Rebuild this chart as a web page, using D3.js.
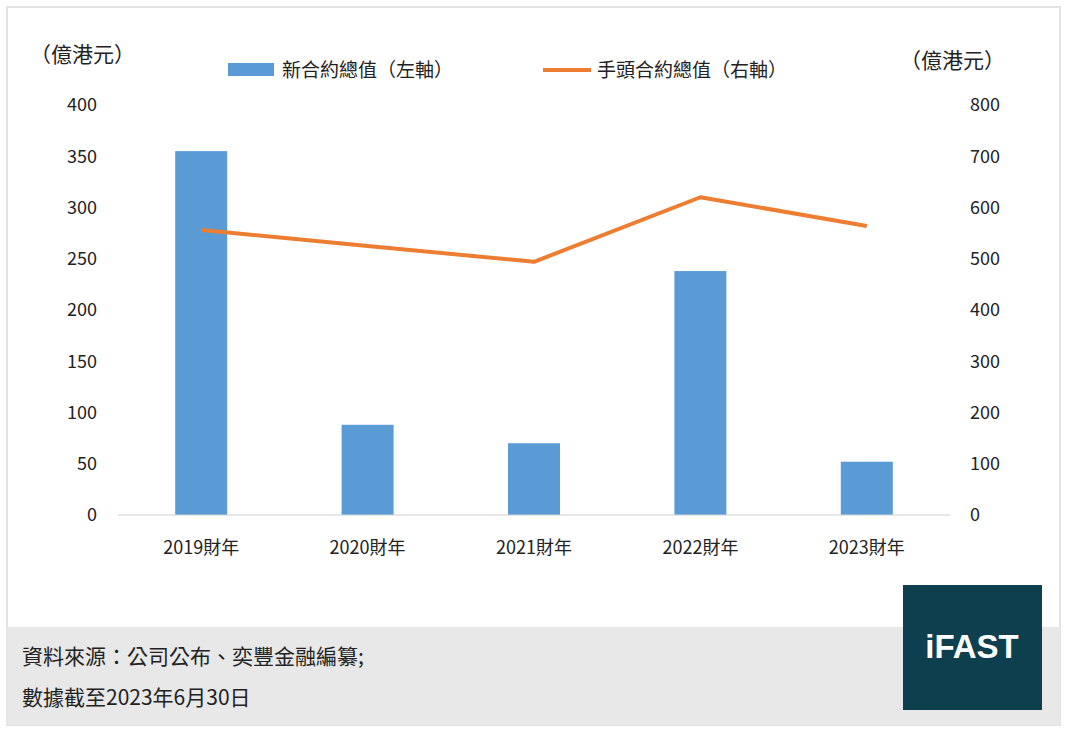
<!DOCTYPE html>
<html>
<head>
<meta charset="utf-8">
<script src="https://cdn.jsdelivr.net/npm/d3@7"></script>
<style>
  body { margin: 0; background: #fff; }
  text { font-family: "Noto Sans CJK TC", "Noto Sans", sans-serif; fill: #222; }
</style>
</head>
<body>
<div id="chart"></div>
<script>
const categories = ['2019財年', '2020財年', '2021財年', '2022財年', '2023財年']
const newContracts = [355, 88, 70, 238, 52]
const backlog = [556, 525, 494, 620, 564]
const leftTicks = [0, 50, 100, 150, 200, 250, 300, 350, 400]
const rightTicks = [0, 100, 200, 300, 400, 500, 600, 700, 800]

const width = 1071
const height = 732
const plot = { left: 118, right: 950, top: 105, bottom: 515 }

const svg = d3.select('#chart').append('svg')
  .attr('width', width)
  .attr('height', height)

// frame and footer
svg.append('rect').attr('x', 7).attr('y', 7).attr('width', 1053).attr('height', 718)
  .attr('fill', '#fff').attr('stroke', '#e3e3e3').attr('stroke-width', 2)
svg.append('rect').attr('x', 7).attr('y', 627).attr('width', 1053).attr('height', 98)
  .attr('fill', '#e8e8e8')

const x = d3.scaleBand().domain(categories).range([plot.left, plot.right])
const yL = d3.scaleLinear().domain([0, 400]).range([plot.bottom, plot.top])
const yR = d3.scaleLinear().domain([0, 800]).range([plot.bottom, plot.top])

const barW = 52
svg.append('g').selectAll('rect')
  .data(newContracts)
  .join('rect')
  .attr('x', (d, i) => x(categories[i]) + x.bandwidth() / 2 - barW / 2)
  .attr('y', d => yL(d))
  .attr('width', barW)
  .attr('height', d => yL(0) - yL(d))
  .attr('fill', '#5b9bd5')

svg.append('line').attr('x1', plot.left).attr('x2', plot.right)
  .attr('y1', plot.bottom).attr('y2', plot.bottom).attr('stroke', '#d0d0d0')

const line = d3.line()
  .x((d, i) => x(categories[i]) + x.bandwidth() / 2)
  .y(d => yR(d))
svg.append('path').datum(backlog)
  .attr('d', line).attr('fill', 'none')
  .attr('stroke', '#ed7d31').attr('stroke-width', 4).attr('stroke-linejoin', 'round')

const axisL = d3.axisLeft(yL).tickValues(leftTicks).tickSize(0).tickPadding(0)
svg.append('g').attr('transform', 'translate(97,0)').call(axisL)
  .call(g => g.select('.domain').remove())
  .selectAll('text').style('font-size', '18px').attr('fill', '#222')

const axisR = d3.axisRight(yR).tickValues(rightTicks).tickSize(0).tickPadding(0)
svg.append('g').attr('transform', 'translate(970,0)').call(axisR)
  .call(g => g.select('.domain').remove())
  .selectAll('text').style('font-size', '18px').attr('fill', '#222')

const axisB = d3.axisBottom(x).tickSize(0).tickPadding(0)
svg.append('g').attr('transform', `translate(0,${plot.bottom + 26})`).call(axisB)
  .call(g => g.select('.domain').remove())
  .selectAll('text').style('font-size', '18px').attr('fill', '#222')

svg.append('text').attr('x', 30).attr('y', 62).style('font-size', '21px').text('（億港元）')
svg.append('text').attr('x', 900).attr('y', 68).style('font-size', '21px').text('（億港元）')

// legend
svg.append('rect').attr('x', 228).attr('y', 63).attr('width', 46).attr('height', 13).attr('fill', '#5b9bd5')
svg.append('text').attr('x', 282).attr('y', 77).style('font-size', '19px').text('新合約總值（左軸）')
svg.append('line').attr('x1', 543).attr('x2', 591).attr('y1', 70).attr('y2', 70)
  .attr('stroke', '#ed7d31').attr('stroke-width', 4)
svg.append('text').attr('x', 597).attr('y', 77).style('font-size', '19px').text('手頭合約總值（右軸）')

svg.append('text').attr('x', 22).attr('y', 664).style('font-size', '21px').text('資料來源：公司公布、奕豐金融編纂;')
svg.append('text').attr('x', 22).attr('y', 705).style('font-size', '21px').text('數據截至2023年6月30日')

svg.append('rect').attr('x', 903).attr('y', 585).attr('width', 139).attr('height', 125).attr('fill', '#0e3f4e')
svg.append('text').attr('x', 972).attr('y', 658).attr('text-anchor', 'middle')
  .style('font-size', '33px').style('font-weight', 'bold').style('font-family', 'Arial, "Liberation Sans", sans-serif')
  .attr('fill', '#fff').style('fill', '#fff').text('iFAST')
</script>
</body>
</html>
